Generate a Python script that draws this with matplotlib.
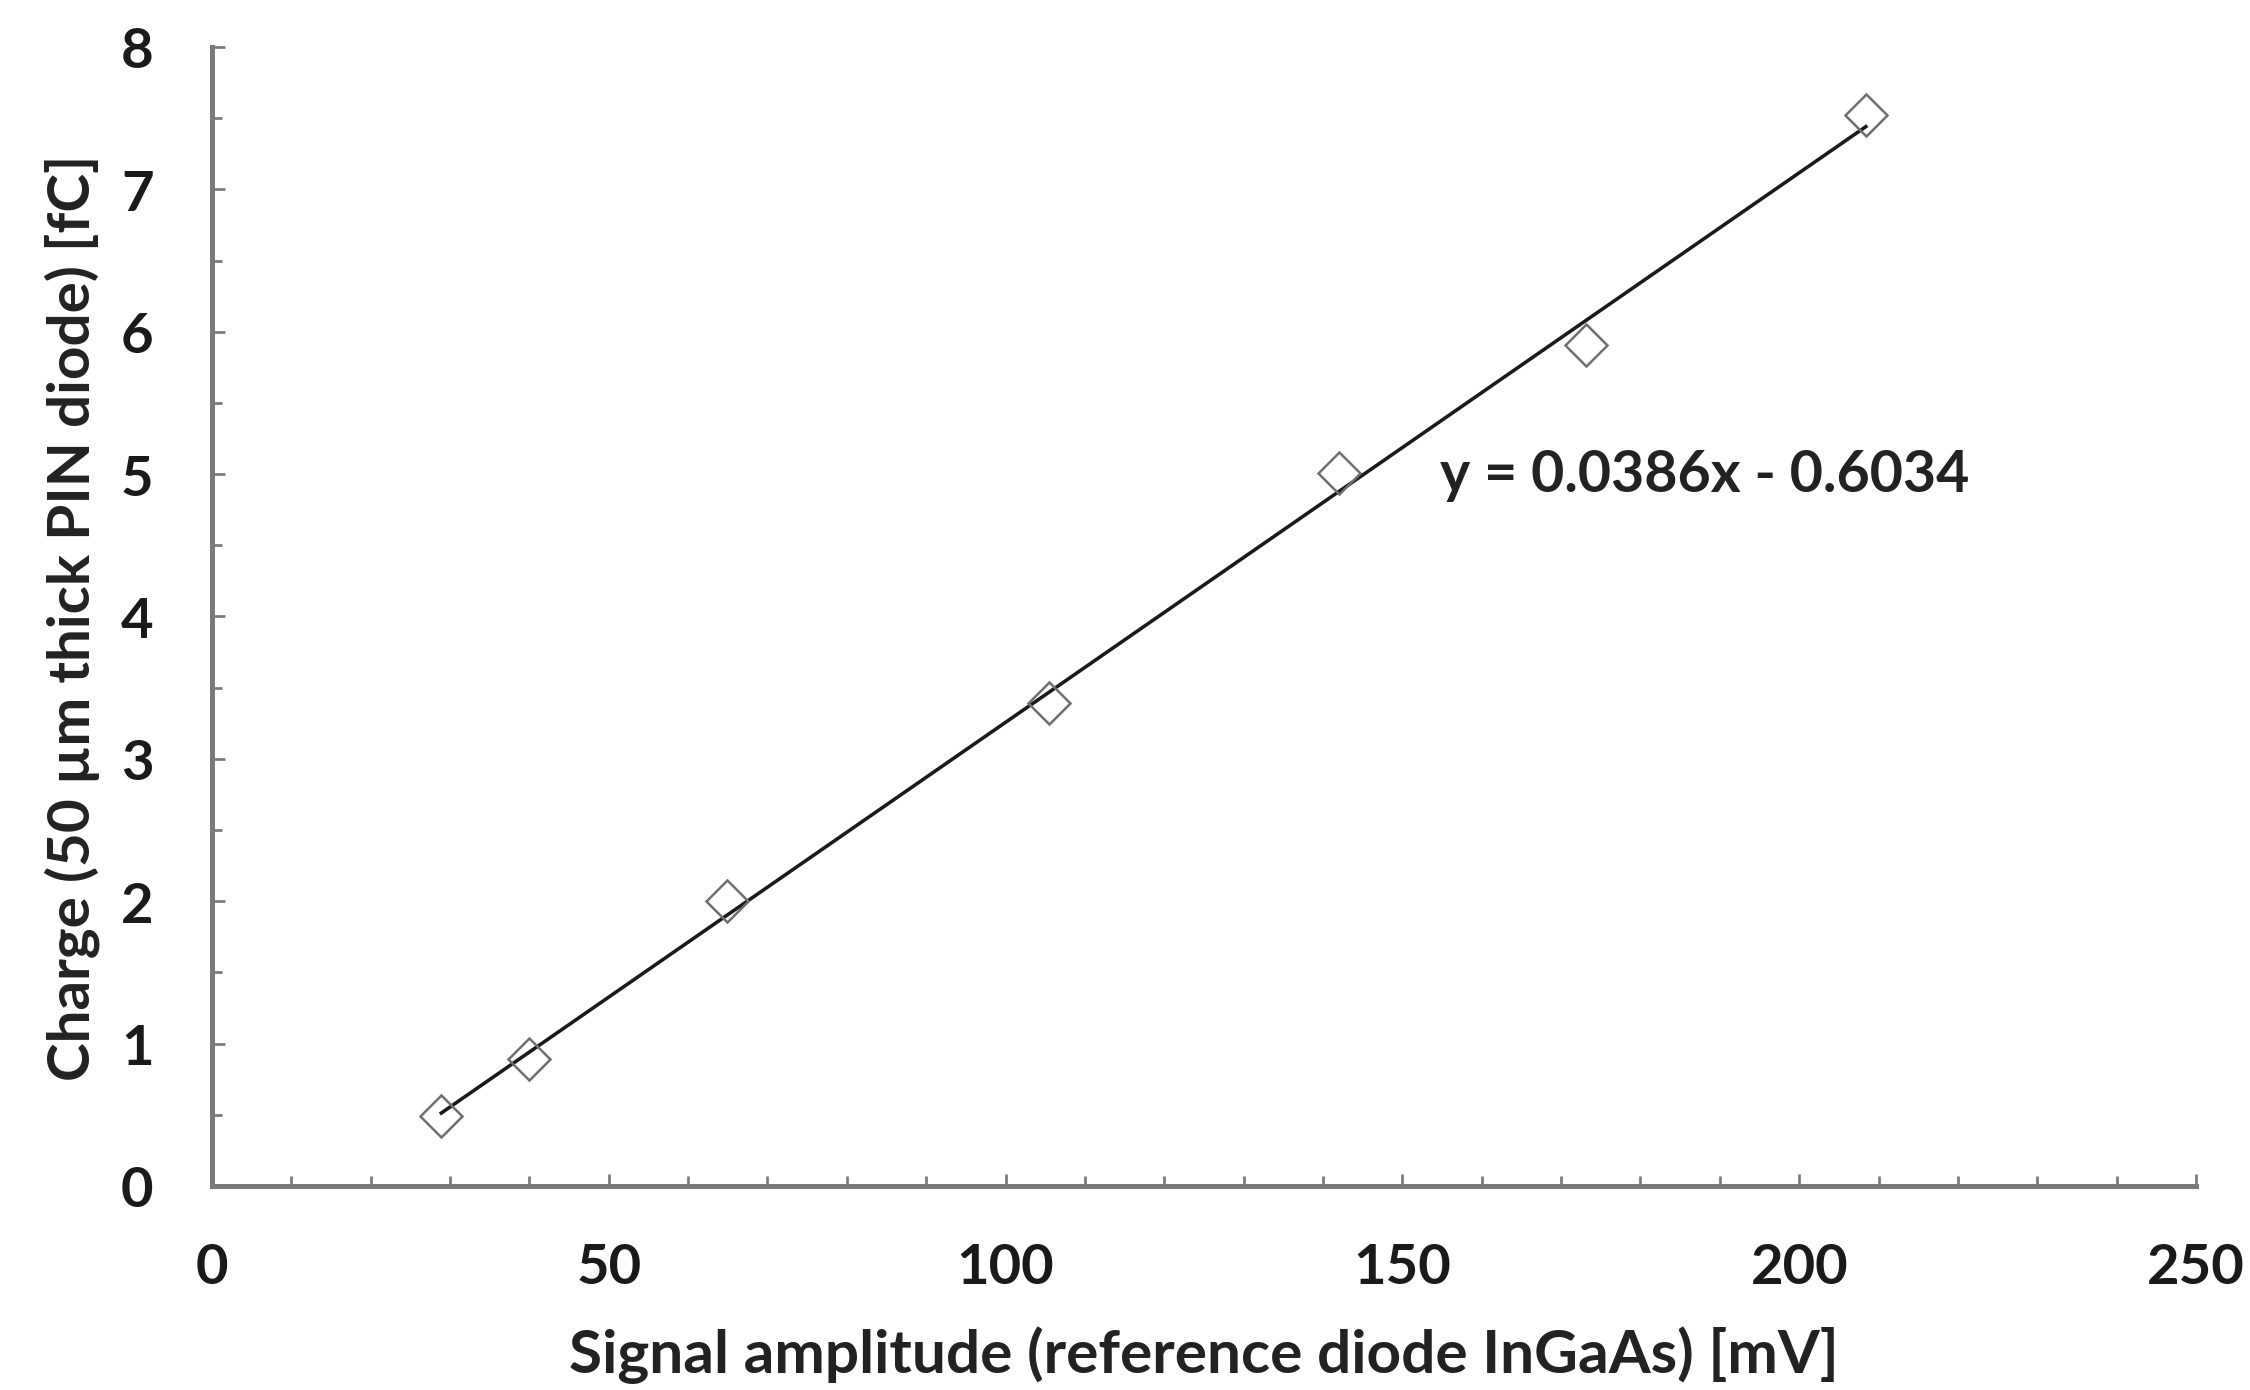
import numpy as np
import matplotlib.pyplot as plt
from matplotlib.ticker import MultipleLocator

# measured points
signal_mv = [28.9, 40.0, 64.9, 105.5, 142.0, 173.1, 208.4]
charge_fc = [0.49, 0.89, 2.00, 3.39, 5.01, 5.91, 7.52]

slope = 0.0386
intercept = -0.6034
eq_text = 'y = 0.0386x - 0.6034'


def main():
    plt.rcParams['font.family'] = ['Lato', 'DejaVu Sans']
    plt.rcParams['font.weight'] = 'bold'

    fig = plt.figure(figsize=(15, 9.273), dpi=150)
    ax = fig.add_axes([0.0942, 0.1467, 0.8818, 0.8188])

    xs = np.array([min(signal_mv), max(signal_mv)])
    ax.plot(xs, slope * xs + intercept, color='#1a1a1a', lw=1.7, zorder=2)
    ax.plot(signal_mv, charge_fc, ls='none', marker='D', ms=14,
            mfc='none', mec='#6f6f6f', mew=1.2, zorder=3)

    ax.text(154.7, 5.0, eq_text, fontsize=27.5, fontweight='bold',
            color='#222222', va='center', ha='left')

    ax.set_xlim(0, 250)
    ax.set_ylim(0, 8)
    ax.xaxis.set_major_locator(MultipleLocator(50))
    ax.xaxis.set_minor_locator(MultipleLocator(10))
    ax.yaxis.set_major_locator(MultipleLocator(1))
    ax.yaxis.set_minor_locator(MultipleLocator(0.5))

    for s in ['top', 'right']:
        ax.spines[s].set_visible(False)
    for s in ['left', 'bottom']:
        ax.spines[s].set_color('#7a7a7a')
        ax.spines[s].set_linewidth(2.4)

    ax.tick_params(which='both', direction='in', color='#7a7a7a', width=1.3)
    ax.tick_params(which='major', length=6)
    ax.tick_params(which='minor', length=5)
    ax.tick_params(axis='x', which='major', pad=27, labelsize=27)
    ax.tick_params(axis='y', which='major', pad=28, labelsize=27)
    for lab in ax.get_xticklabels() + ax.get_yticklabels():
        lab.set_fontweight('bold')
        lab.set_color('#1a1a1a')

    ax.set_xlabel('Signal amplitude (reference diode InGaAs) [mV]',
                  fontsize=29, fontweight='bold', color='#222222', labelpad=16)
    ax.set_ylabel('Charge (50 \u00b5m thick PIN diode) [fC]',
                  fontsize=28, fontweight='bold', color='#222222', labelpad=10)

    fig.savefig('out.png', dpi=150)


if __name__ == '__main__':
    main()
